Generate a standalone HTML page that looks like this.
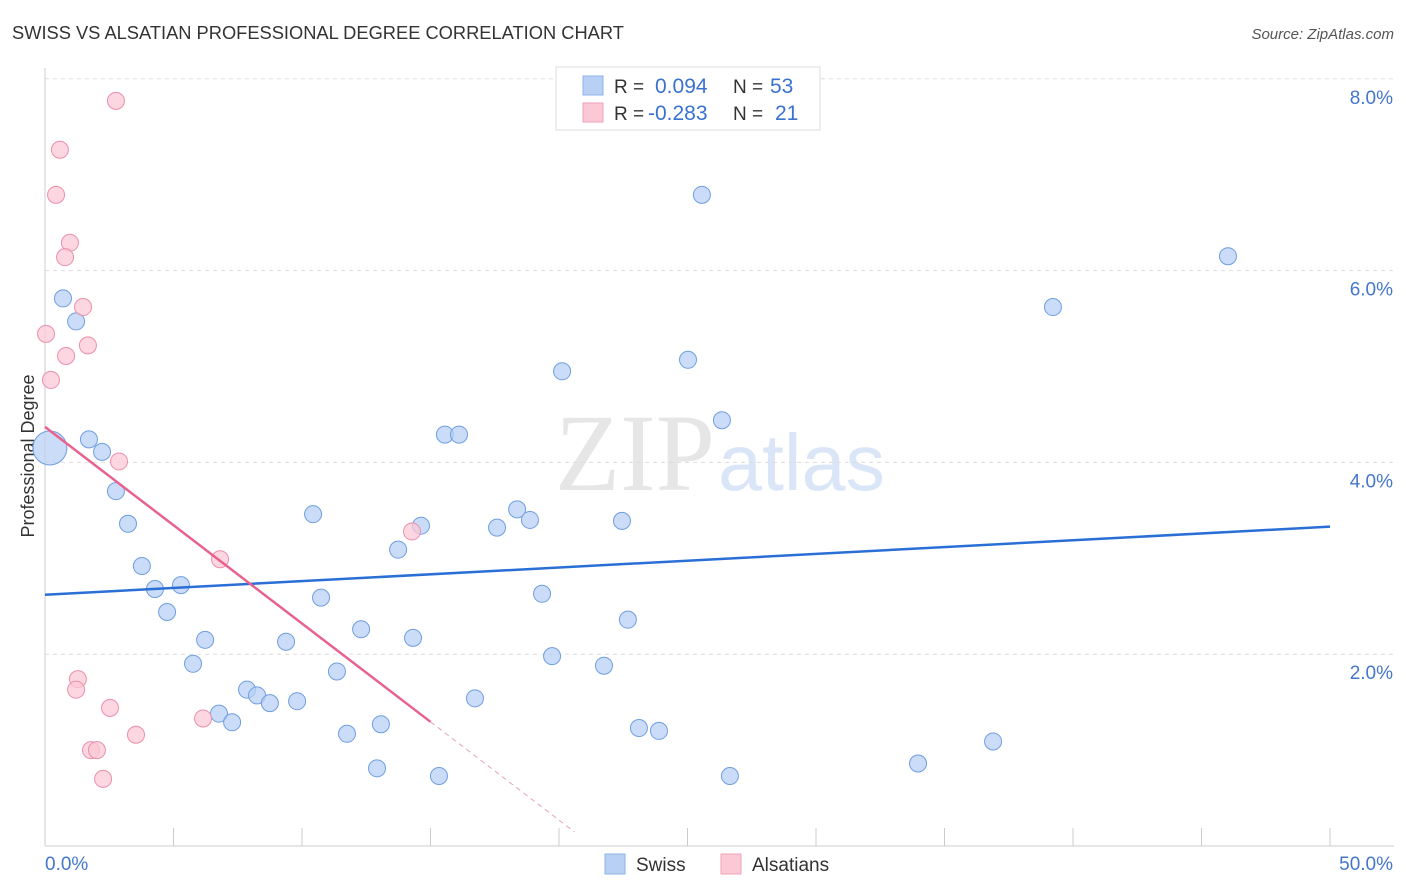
<!DOCTYPE html>
<html><head><meta charset="utf-8"><style>
body{margin:0;background:#fff;font-family:"Liberation Sans",sans-serif}
svg{display:block}
</style></head><body>
<svg id="c" width="1406" height="892">
<text x="12" y="39" font-size="18.3" fill="#333">SWISS VS ALSATIAN PROFESSIONAL DEGREE CORRELATION CHART</text>
<text x="1394" y="39" font-size="15" fill="#555" font-style="italic" text-anchor="end">Source: ZipAtlas.com</text>
<text x="555" y="490" font-size="110" fill="#e6e6e6" font-family="Liberation Serif" textLength="160" lengthAdjust="spacingAndGlyphs">ZIP</text>
<text x="718" y="490" font-size="80" fill="#dae6f7" textLength="167" lengthAdjust="spacingAndGlyphs">atlas</text>
<text x="34" y="456" font-size="18" fill="#333" text-anchor="middle" transform="rotate(-90 34 456)">Professional Degree</text>
<g id="grid"></g><g id="marks"></g>
<g>
<rect x="556" y="67" width="264" height="63" fill="#fff" stroke="#ddd"/>
<rect x="583" y="76" width="20" height="19" fill="#b8d0f4" stroke="#8fb2e8"/>
<rect x="583" y="103" width="20" height="19" fill="#fbc8d6" stroke="#f0a0b8"/>
<text x="614" y="93" font-size="19" fill="#333">R =</text>
<text x="655" y="93" font-size="21" fill="#3a72d0">0.094</text>
<text x="733" y="93" font-size="19" fill="#333">N =</text>
<text x="770" y="93" font-size="21" fill="#3a72d0">53</text>
<text x="614" y="120" font-size="19" fill="#333">R =</text>
<text x="648" y="120" font-size="21" fill="#3a72d0">-0.283</text>
<text x="733" y="120" font-size="19" fill="#333">N =</text>
<text x="775" y="120" font-size="21" fill="#3a72d0">21</text>
</g>
<g>
<rect x="605" y="854" width="20" height="20" fill="#b8d0f4" stroke="#8fb2e8"/>
<text x="636" y="871" font-size="19" fill="#333">Swiss</text>
<rect x="721" y="854" width="20" height="20" fill="#fbc8d6" stroke="#f0a0b8"/>
<text x="752" y="871" font-size="19" fill="#333">Alsatians</text>
</g>
</svg>
<script>
const swissX=[0.70,1.21,1.71,2.22,2.76,3.23,3.77,4.28,4.75,5.29,5.76,6.23,6.77,7.28,7.86,8.25,8.75,9.38,9.81,10.43,10.74,11.36,11.75,12.30,12.92,13.07,13.74,14.32,14.63,15.33,15.56,16.11,16.73,17.59,18.37,18.87,19.34,19.73,20.12,21.75,22.45,22.68,23.11,23.89,25.02,25.56,26.34,26.65,33.97,36.89,39.22,46.03,0.19];
const swissY=[5.71,5.47,4.24,4.11,3.70,3.36,2.92,2.68,2.44,2.72,1.90,2.15,1.38,1.29,1.63,1.57,1.49,2.13,1.51,3.46,2.59,1.82,1.17,2.26,0.81,1.27,3.09,2.17,3.34,0.73,4.29,4.29,1.54,3.32,3.51,3.40,2.63,1.98,4.95,1.88,3.39,2.36,1.23,1.20,5.07,6.79,4.44,0.73,0.86,1.09,5.62,6.15,4.15];
const alsX=[2.76,0.58,0.43,0.97,0.78,1.48,0.04,1.67,0.82,0.23,2.88,6.81,14.28,1.28,1.21,2.53,3.54,6.15,1.79,2.02,2.26];
const alsY=[7.77,7.26,6.79,6.29,6.14,5.62,5.34,5.22,5.11,4.86,4.01,2.99,3.28,1.74,1.63,1.44,1.16,1.33,1.00,1.00,0.70];
const swissTrend=[2.62,3.33];
const alsTrend=[4.37,-0.205];
const yTicks=[2,4,6,8];
const xTickVals=[5,10,15,20,25,30,35,40,45,50];
const X=v=>45+v*25.7, Y=v=>846-v*95.9;
const NS="http://www.w3.org/2000/svg";
function mk(p,t,a){const e=document.createElementNS(NS,t);for(const k in a)e.setAttribute(k,a[k]);p.appendChild(e);return e;}
const g=document.getElementById('grid'),m=document.getElementById('marks');
let ax=mk(g,'line',{x1:45,y1:68,x2:45,y2:846,stroke:'#ccc'});


ax=mk(g,'line',{x1:45,y1:846,x2:1394,y2:846,stroke:'#ccc'});


yTicks.forEach(v=>{
 const l=mk(g,'line',{x1:45,x2:1394,y1:Y(v),y2:Y(v),stroke:'#ddd','stroke-dasharray':'4,4'});
 
 
 const t=mk(g,'text',{x:1393,y:Y(v)+25,'font-size':19,fill:'#4477cc','text-anchor':'end'});t.textContent=v.toFixed(1)+'%';
 
 
});
xTickVals.forEach(v=>{
 const l=mk(g,'line',{x1:X(v),x2:X(v),y1:828,y2:846,stroke:'#ccc'});
 
 
});
let t=mk(g,'text',{x:45,y:870,'font-size':19,fill:'#4477cc'});t.textContent='0.0%';


t=mk(g,'text',{x:1393,y:870,'font-size':19,fill:'#4477cc','text-anchor':'end'});t.textContent='50.0%';


swissX.forEach((x,i)=>{
 const c=mk(m,'circle',{cx:X(x),cy:Y(swissY[i]),r:i==52?17:8.5,fill:'#b8d0f4','fill-opacity':0.75,stroke:'#6f9ee0','stroke-width':1});
 
 
});
alsX.forEach((x,i)=>{
 const c=mk(m,'circle',{cx:X(x),cy:Y(alsY[i]),r:8.5,fill:'#fbc8d6','fill-opacity':0.75,stroke:'#ec8fab','stroke-width':1});
 
 
});
let l=mk(m,'line',{x1:X(0),y1:Y(swissTrend[0]),x2:X(50),y2:Y(swissTrend[1]),stroke:'#2a6fd6','stroke-width':2.5});


const a=alsTrend[0],b=alsTrend[1];
l=mk(m,'line',{x1:X(0),y1:Y(a),x2:X(15),y2:Y(a+b*15),stroke:'#e8628f','stroke-width':2.5});


l=mk(m,'line',{x1:X(15),y1:Y(a+b*15),x2:X(20.6),y2:Y(a+b*20.6),stroke:'#e8a0b8','stroke-width':1,'stroke-dasharray':'5,4'});


</script>
</body></html>
